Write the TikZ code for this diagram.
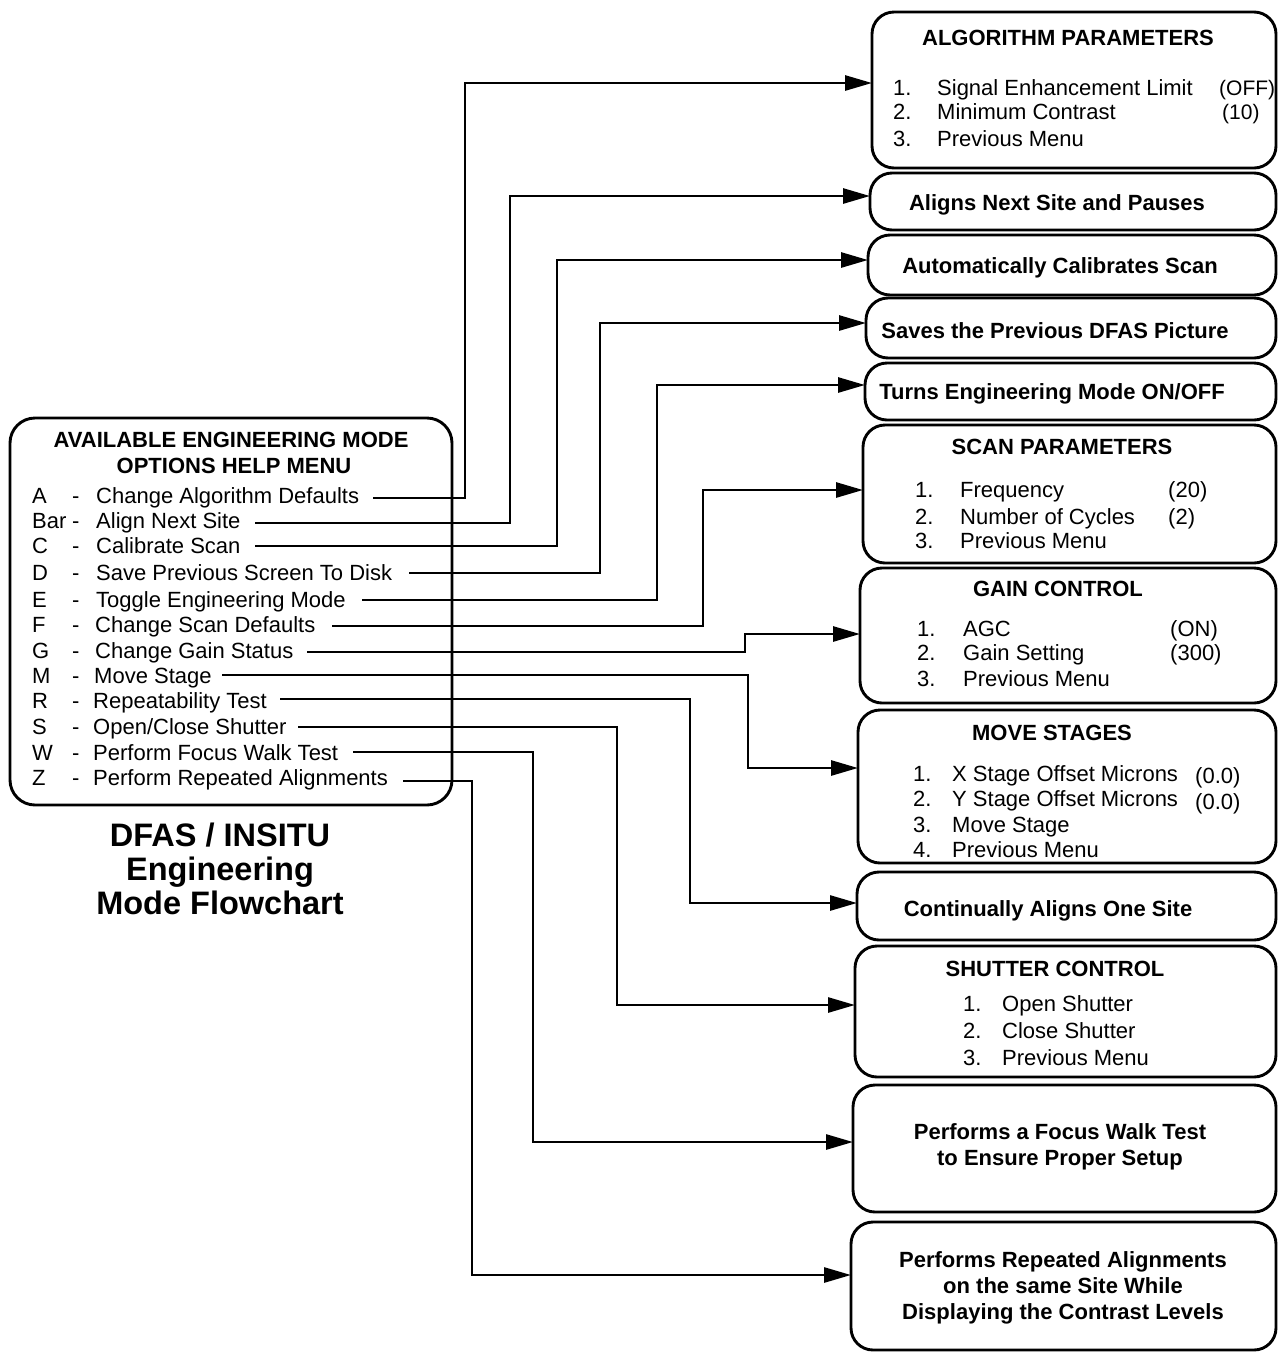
\documentclass[tikz,border=0pt]{standalone}
\usepackage{fontspec}
\setmainfont{Liberation Sans}
\usetikzlibrary{arrows.meta}
\newcommand{\optrow}[5]{%
  \node[txt] (k#1) at (32,#4) {#2};
  \node[txt] (d#1) at (72,#4) {-};
  \node[txt] (t#1) at (#5,#4) {#3};}
\begin{document}
\begin{tikzpicture}[x=1pt,y=-1pt,
  box/.style={draw, line width=2.9pt, rounded corners=22pt, anchor=north west, inner sep=0pt, outer sep=0pt},
  conn/.style={line width=2.8pt, -{Triangle[length=27pt,width=15pt]}},
  txt/.style={anchor=base west, inner sep=0pt, font=\fontsize{22}{26}\selectfont},
  ttl/.style={anchor=base, inner sep=0pt, font=\fontsize{22}{26}\selectfont\bfseries},
  cbody/.style={align=center, inner sep=0pt, font=\fontsize{22}{26}\selectfont\bfseries},
]
\useasboundingbox (0,0) rectangle (1279,1353);

% ---------- left menu box ----------
\node[box, rounded corners=25pt, minimum width=442pt, minimum height=387pt] (menu) at (10,418) {};
\node[ttl] (m1) at (231,447) {AVAILABLE ENGINEERING MODE};
\node[ttl] (m2) at (234,473) {OPTIONS HELP MENU};
\optrow{A}{A}{Change Algorithm Defaults}{503}{96}
\optrow{Bar}{Bar}{Align Next Site}{528}{96}
\optrow{C}{C}{Calibrate Scan}{553}{96}
\optrow{D}{D}{Save Previous Screen To Disk}{580}{96}
\optrow{E}{E}{Toggle Engineering Mode}{607}{96}
\optrow{F}{F}{Change Scan Defaults}{632}{95}
\optrow{G}{G}{Change Gain Status}{658}{95}
\optrow{M}{M}{Move Stage}{683}{94}
\optrow{R}{R}{Repeatability Test}{708}{93}
\optrow{S}{S}{Open/Close Shutter}{734}{93}
\optrow{W}{W}{Perform Focus Walk Test}{760}{93}
\optrow{Z}{Z}{Perform Repeated Alignments}{785}{93}

\node[cbody, font=\fontsize{32.5}{34}\selectfont\bfseries] (cap) at (220,869)
  {DFAS / INSITU\\Engineering\\Mode Flowchart};

% ---------- right boxes ----------
\node[box, minimum width=404pt, minimum height=156pt] (b1) at (872,12) {};
\node[box, minimum width=406pt, minimum height=57pt] (b2) at (870,173) {};
\node[box, minimum width=408pt, minimum height=60pt] (b3) at (868,235) {};
\node[box, minimum width=410pt, minimum height=60pt] (b4) at (866,298) {};
\node[box, minimum width=411pt, minimum height=57pt] (b5) at (865,363) {};
\node[box, minimum width=413pt, minimum height=138pt] (b6) at (863,425) {};
\node[box, minimum width=416pt, minimum height=135pt] (b7) at (860,568) {};
\node[box, minimum width=418pt, minimum height=153pt] (b8) at (858,710) {};
\node[box, minimum width=419pt, minimum height=68pt] (b9) at (857,872) {};
\node[box, minimum width=421pt, minimum height=131pt] (b10) at (855,946) {};
\node[box, minimum width=423pt, minimum height=127pt] (b11) at (853,1085) {};
\node[box, minimum width=425pt, minimum height=128pt] (b12) at (851,1222) {};

% b1
\node[ttl] (b1t) at (1068,45) {ALGORITHM PARAMETERS};
\node[txt] (b1n1) at (893,95) {1.};
\node[txt] (b1i1) at (937,95) {Signal Enhancement Limit};
\node[txt, font=\fontsize{21}{26}\selectfont] (b1v1) at (1219,95) {(OFF)};
\node[txt] (b1n2) at (893,119) {2.};
\node[txt] (b1i2) at (937,119) {Minimum Contrast};
\node[txt, font=\fontsize{21}{26}\selectfont] (b1v2) at (1222,119) {(10)};
\node[txt] (b1n3) at (893,146) {3.};
\node[txt] (b1i3) at (937,146) {Previous Menu};
% b2-b5
\node[ttl] (b2t) at (1057,210) {Aligns Next Site and Pauses};
\node[ttl] (b3t) at (1060,273) {Automatically Calibrates Scan};
\node[ttl] (b4t) at (1055,338) {Saves the Previous DFAS Picture};
\node[ttl] (b5t) at (1052,399) {Turns Engineering Mode ON/OFF};
% b6
\node[ttl] (b6t) at (1062,454) {SCAN PARAMETERS};
\node[txt] (b6n1) at (915,497) {1.};
\node[txt] (b6i1) at (960,497) {Frequency};
\node[txt] (b6v1) at (1168,497) {(20)};
\node[txt] (b6n2) at (915,524) {2.};
\node[txt] (b6i2) at (960,524) {Number of Cycles};
\node[txt] (b6v2) at (1168,524) {(2)};
\node[txt] (b6n3) at (915,548) {3.};
\node[txt] (b6i3) at (960,548) {Previous Menu};
% b7
\node[ttl] (b7t) at (1058,596) {GAIN CONTROL};
\node[txt] (b7n1) at (917,636) {1.};
\node[txt] (b7i1) at (963,636) {AGC};
\node[txt] (b7v1) at (1170,636) {(ON)};
\node[txt] (b7n2) at (917,660) {2.};
\node[txt] (b7i2) at (963,660) {Gain Setting};
\node[txt] (b7v2) at (1170,660) {(300)};
\node[txt] (b7n3) at (917,686) {3.};
\node[txt] (b7i3) at (963,686) {Previous Menu};
% b8
\node[ttl] (b8t) at (1052,740) {MOVE STAGES};
\node[txt] (b8n1) at (913,781) {1.};
\node[txt] (b8i1) at (952,781) {X Stage Offset Microns};
\node[txt] (b8v1) at (1195,783) {(0.0)};
\node[txt] (b8n2) at (913,806) {2.};
\node[txt] (b8i2) at (952,806) {Y Stage Offset Microns};
\node[txt] (b8v2) at (1195,809) {(0.0)};
\node[txt] (b8n3) at (913,832) {3.};
\node[txt] (b8i3) at (952,832) {Move Stage};
\node[txt] (b8n4) at (913,857) {4.};
\node[txt] (b8i4) at (952,857) {Previous Menu};
% b9
\node[ttl] (b9t) at (1048,916) {Continually Aligns One Site};
% b10
\node[ttl] (b10t) at (1055,976) {SHUTTER CONTROL};
\node[txt] (b10n1) at (963,1011) {1.};
\node[txt] (b10i1) at (1002,1011) {Open Shutter};
\node[txt] (b10n2) at (963,1038) {2.};
\node[txt] (b10i2) at (1002,1038) {Close Shutter};
\node[txt] (b10n3) at (963,1065) {3.};
\node[txt] (b10i3) at (1002,1065) {Previous Menu};
% b11, b12
\node[cbody] (b11t) at (1060,1147) {Performs a Focus Walk Test\\to Ensure Proper Setup};
\node[cbody] (b12t) at (1063,1288) {Performs Repeated Alignments\\on the same Site While\\Displaying the Contrast Levels};

% ---------- connectors ----------
\coordinate (sA) at (373,498);
\coordinate (sBar) at (255,523);
\coordinate (sC) at (255,546);
\coordinate (sD) at (409,573);
\coordinate (sE) at (362,600);
\coordinate (sF) at (332,626);
\coordinate (sG) at (307,652);
\coordinate (sM) at (222,675);
\coordinate (sR) at (280,699);
\coordinate (sS) at (298,727);
\coordinate (sW) at (353,752);
\coordinate (sZ) at (403,781);

\draw[conn] (sA) -| (465,83) -- (b1.west |- 0,83);
\draw[conn] (sBar) -| (510,196) -- (b2.west |- 0,196);
\draw[conn] (sC) -| (557,260) -- (b3.west |- 0,260);
\draw[conn] (sD) -| (600,323) -- (b4.west |- 0,323);
\draw[conn] (sE) -| (657,385) -- (b5.west |- 0,385);
\draw[conn] (sF) -| (703,490) -- (b6.west |- 0,490);
\draw[conn] (sG) -| (745,634) -- (b7.west |- 0,634);
\draw[conn] (sM) -| (748,768) -- (b8.west |- 0,768);
\draw[conn] (sR) -| (690,903) -- (b9.west |- 0,903);
\draw[conn] (sS) -| (617,1005) -- (b10.west |- 0,1005);
\draw[conn] (sW) -| (533,1142) -- (b11.west |- 0,1142);
\draw[conn] (sZ) -| (472,1275) -- (b12.west |- 0,1275);
\end{tikzpicture}
\end{document}
